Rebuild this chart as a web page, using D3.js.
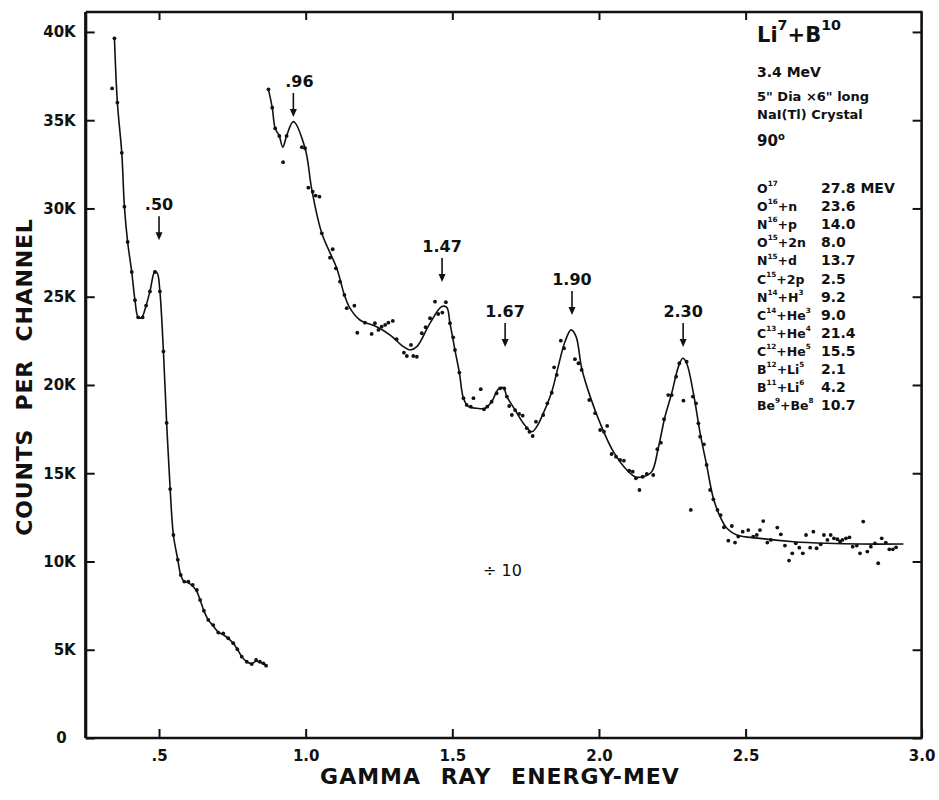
<!DOCTYPE html>
<html><head><meta charset="utf-8">
<script src="https://cdn.jsdelivr.net/npm/d3@7"></script>
<style>body{margin:0;background:#fff} svg{display:block}</style>
</head><body><svg id="c" width="939" height="800"></svg>
<script>
// ---------- DATA (energy MeV, counts in thousands) ----------
const lowCurve = [[0.348,39.64],[0.358,36.0],[0.373,33.15],[0.382,30.1],[0.393,28.1],[0.407,26.4],[0.418,24.8],[0.429,23.83],[0.440,23.8],[0.456,24.5],[0.469,25.3],[0.486,26.45],[0.495,26.3],[0.503,25.3],[0.515,21.9],[0.526,17.85],[0.538,14.1],[0.549,11.5],[0.564,10.1],[0.574,9.24],[0.586,8.86],[0.600,8.8],[0.615,8.6],[0.629,8.3],[0.640,7.82],[0.653,7.21],[0.668,6.69],[0.685,6.35],[0.702,6.0],[0.719,5.85],[0.736,5.65],[0.753,5.37],[0.767,5.03],[0.782,4.61],[0.799,4.32],[0.816,4.22],[0.831,4.35],[0.844,4.3],[0.856,4.22],[0.865,4.10]];
const lowPoints = [[0.340,36.8],[0.348,39.64],[0.358,36.0],[0.373,33.15],[0.382,30.1],[0.393,28.1],[0.407,26.4],[0.418,24.8],[0.429,23.83],[0.444,23.83],[0.456,24.5],[0.469,25.3],[0.486,26.4],[0.503,25.3],[0.515,21.9],[0.526,17.85],[0.538,14.1],[0.549,11.5],[0.564,10.1],[0.574,9.24],[0.586,8.86],[0.600,8.86],[0.615,8.67],[0.629,8.39],[0.640,7.82],[0.653,7.21],[0.668,6.69],[0.685,6.40],[0.702,5.97],[0.719,5.93],[0.736,5.65],[0.753,5.37],[0.767,5.03],[0.782,4.61],[0.799,4.32],[0.816,4.19],[0.831,4.42],[0.844,4.32],[0.856,4.23],[0.865,4.10]];
const mainCurve = [[0.873,36.75],[0.886,35.71],[0.896,34.54],[0.910,34.11],[0.922,33.47],[0.935,34.11],[0.958,34.92],[0.998,33.41],[1.021,31.05],[1.055,28.59],[1.106,26.61],[1.132,25.10],[1.151,24.35],[1.185,23.68],[1.242,23.30],[1.288,22.83],[1.333,22.17],[1.356,21.98],[1.379,22.17],[1.424,23.50],[1.464,24.44],[1.481,24.40],[1.492,23.50],[1.509,21.98],[1.524,20.70],[1.538,19.25],[1.555,18.77],[1.583,18.68],[1.612,18.68],[1.634,19.05],[1.657,19.76],[1.674,19.85],[1.686,19.34],[1.714,18.58],[1.742,17.83],[1.771,17.35],[1.788,17.64],[1.810,18.39],[1.839,19.62],[1.861,21.04],[1.884,22.45],[1.905,23.12],[1.922,22.74],[1.941,20.95],[1.970,19.34],[2.004,17.83],[2.049,16.22],[2.095,15.18],[2.123,14.80],[2.151,14.80],[2.180,15.09],[2.202,16.41],[2.225,18.20],[2.248,19.53],[2.271,21.04],[2.286,21.51],[2.299,21.23],[2.322,19.53],[2.345,17.26],[2.367,15.47],[2.390,13.58],[2.413,12.54],[2.436,11.88],[2.470,11.50],[2.549,11.31],[2.663,11.12],[2.777,11.03],[2.890,10.99],[3.038,10.99]];
const mainPoints = [[0.873,36.75],[0.886,35.71],[0.896,34.54],[0.910,34.11],[0.923,32.62],[0.935,34.11],[0.987,33.47],[0.998,33.41],[1.009,31.18],[1.024,30.95],[1.034,30.73],[1.047,30.67],[1.055,28.59],[1.092,27.69],[1.083,27.21],[1.103,26.61],[1.117,25.85],[1.132,25.10],[1.140,24.35],[1.166,24.49],[1.176,22.96],[1.202,23.53],[1.225,22.89],[1.236,23.50],[1.248,23.12],[1.259,23.30],[1.271,23.40],[1.282,23.53],[1.297,23.63],[1.310,22.59],[1.335,21.83],[1.345,21.64],[1.359,22.27],[1.367,21.64],[1.379,21.60],[1.396,22.93],[1.409,23.27],[1.424,23.78],[1.441,24.72],[1.452,24.02],[1.466,24.10],[1.478,24.69],[1.492,23.50],[1.503,22.70],[1.509,21.98],[1.524,20.70],[1.538,19.25],[1.549,18.87],[1.563,18.77],[1.572,19.25],[1.597,19.76],[1.608,18.62],[1.619,18.77],[1.634,19.05],[1.651,19.53],[1.663,19.81],[1.677,19.81],[1.686,19.34],[1.694,18.81],[1.703,18.30],[1.714,18.58],[1.728,18.36],[1.740,18.26],[1.754,17.55],[1.763,17.35],[1.774,17.11],[1.785,17.92],[1.810,18.30],[1.824,18.96],[1.839,19.56],[1.847,21.00],[1.856,20.57],[1.870,22.51],[1.881,22.08],[1.918,21.46],[1.930,21.23],[1.941,20.85],[1.967,19.15],[1.987,18.40],[2.004,17.45],[2.017,17.35],[2.028,17.68],[2.043,16.09],[2.058,15.94],[2.072,15.75],[2.085,15.71],[2.103,15.14],[2.115,15.09],[2.126,14.71],[2.138,14.05],[2.149,14.80],[2.163,14.96],[2.185,14.90],[2.199,16.36],[2.211,16.73],[2.222,18.06],[2.236,19.43],[2.248,19.43],[2.263,20.47],[2.274,21.23],[2.288,19.11],[2.299,21.32],[2.313,12.92],[2.320,19.34],[2.331,18.96],[2.339,17.83],[2.345,17.07],[2.358,16.64],[2.367,15.47],[2.379,14.05],[2.390,13.52],[2.404,12.92],[2.415,12.63],[2.426,11.94],[2.453,12.01],[2.441,11.18],[2.464,11.07],[2.475,11.41],[2.490,11.69],[2.509,11.78],[2.526,11.41],[2.538,11.50],[2.549,11.78],[2.560,12.29],[2.574,11.07],[2.586,11.22],[2.608,11.92],[2.620,11.54],[2.634,10.90],[2.648,10.05],[2.659,10.46],[2.671,11.03],[2.683,10.78],[2.695,10.46],[2.706,11.50],[2.720,10.78],[2.731,11.69],[2.742,10.75],[2.756,10.97],[2.767,11.50],[2.779,11.22],[2.790,11.50],[2.801,11.31],[2.813,11.26],[2.822,11.12],[2.830,11.22],[2.842,11.31],[2.854,11.37],[2.865,10.84],[2.879,10.90],[2.890,10.46],[2.901,12.26],[2.915,10.56],[2.927,10.84],[2.941,11.03],[2.952,9.90],[2.964,11.31],[2.978,11.07],[2.990,10.69],[3.002,10.69],[3.013,10.80]];

const xTickValues = [0.5, 1.0, 1.5, 2.0, 2.5, 3.1];
const xTickLabels = [".5", "1.0", "1.5", "2.0", "2.5", "3.0"];
const yTickValues = [0, 5, 10, 15, 20, 25, 30, 35, 40];
const yTickLabels = ["0", "5K", "10K", "15K", "20K", "25K", "30K", "35K", "40K"];

const peakArrowE = [0.50, 0.958, 1.465, 1.68, 1.908, 2.287];
const peakTipK = [28.2, 35.18, 25.84, 22.15, 23.97, 22.15];
const peakLabels = [".50", ".96", "1.47", "1.67", "1.90", "2.30"];

const headerLines = ["3.4 MeV", "5\" Dia \u00d76\" long", "NaI(Tl) Crystal"];
const reactions = ["O^17", "O^16+n", "N^16+p", "O^15+2n", "N^15+d", "C^15+2p", "N^14+H^3", "C^14+He^3", "C^13+He^4", "C^12+He^5", "B^12+Li^5", "B^11+Li^6", "Be^9+Be^8"];
const qValues = ["27.8 MEV", "23.6", "14.0", "8.0", "13.7", "2.5", "9.2", "9.0", "21.4", "15.5", "2.1", "4.2", "10.7"];

// ---------- CHART ----------
const svg = d3.select("#c");
const FONT = "'DejaVu Sans', Verdana, sans-serif";
const x = d3.scaleLinear().domain([0.25, 3.1]).range([85.7, 921.6]);
const y = d3.scaleLinear().domain([0, 41.13]).range([738, 12]);

const g = svg.append("g").attr("font-family", FONT);

// axes
const yl = g.append("g").attr("transform", `translate(${x.range()[0]},0)`)
  .call(d3.axisLeft(y).tickValues(yTickValues).tickSize(-9).tickPadding(10)
    .tickFormat((d, i) => yTickLabels[i]));
const yr = g.append("g").attr("transform", `translate(${x.range()[1]},0)`)
  .call(d3.axisRight(y).tickValues(yTickValues).tickSize(-9).tickFormat(""));
const xb = g.append("g").attr("transform", `translate(0,${y.range()[0]})`)
  .call(d3.axisBottom(x).tickValues(xTickValues).tickSize(-9).tickPadding(12)
    .tickFormat((d, i) => xTickLabels[i]));
const xt = g.append("g").attr("transform", `translate(0,${y.range()[1]})`)
  .call(d3.axisTop(x).tickValues(xTickValues.slice(0, 5)).tickSize(-8).tickFormat(""));
[yl, yr, xb, xt].forEach(a => {
  a.select(".domain").remove();
  a.selectAll(".tick line").attr("stroke", "#111").attr("stroke-width", 2);
  a.selectAll(".tick text").attr("font-size", 15).attr("font-weight", "bold").attr("fill", "#111").attr("font-family", FONT);
});
yl.selectAll(".tick text").filter((d) => d === 0).attr("dx", -9);

// frame
const [x0, x1] = x.range(), [yB, yT] = y.range();
g.append("line").attr("x1", x0).attr("x2", x0).attr("y1", yT).attr("y2", yB).attr("stroke", "#111").attr("stroke-width", 3.2);
g.append("line").attr("x1", x0).attr("x2", x1 + 1).attr("y1", yB).attr("y2", yB).attr("stroke", "#111").attr("stroke-width", 2.6);
g.append("line").attr("x1", x0).attr("x2", x1 + 1).attr("y1", yT).attr("y2", yT).attr("stroke", "#111").attr("stroke-width", 2.4);
g.append("line").attr("x1", x1).attr("x2", x1).attr("y1", yT).attr("y2", yB).attr("stroke", "#111").attr("stroke-width", 2.6);

// axis titles
g.append("text").attr("x", 500).attr("y", 784).attr("text-anchor", "middle")
  .attr("font-size", 22).attr("font-weight", "bold").attr("word-spacing", 11).attr("letter-spacing", 1).attr("fill", "#111")
  .text("GAMMA RAY ENERGY-MEV");
g.append("text").attr("transform", "translate(32,377) rotate(-90)").attr("text-anchor", "middle")
  .attr("font-size", 22).attr("font-weight", "bold").attr("word-spacing", 10).attr("letter-spacing", 0.8).attr("fill", "#111")
  .text("COUNTS PER CHANNEL");

// curves
const line = d3.line().x(d => x(d[0])).y(d => y(d[1])).curve(d3.curveCatmullRom.alpha(0.5));
[lowCurve, mainCurve].forEach(c => {
  g.append("path").datum(c).attr("d", line).attr("fill", "none").attr("stroke", "#111").attr("stroke-width", 1.6);
});
g.append("g").selectAll("circle").data(lowPoints.concat(mainPoints)).join("circle")
  .attr("cx", d => x(d[0])).attr("cy", d => y(d[1])).attr("r", 1.9).attr("fill", "#111");

// peak arrows
const ARROW = 24;
peakArrowE.forEach((e, i) => {
  const ax = x(e), tip = y(peakTipK[i]), top = tip - ARROW;
  g.append("line").attr("x1", ax).attr("x2", ax).attr("y1", top).attr("y2", tip - 4).attr("stroke", "#111").attr("stroke-width", 1.6);
  g.append("path").attr("d", `M${ax - 3.5},${tip - 8} L${ax + 3.5},${tip - 8} L${ax},${tip} Z`).attr("fill", "#111");
  g.append("text").attr("x", ax + (i === 1 ? 6 : 0)).attr("y", top - 6).attr("text-anchor", "middle")
    .attr("font-size", 16).attr("font-weight", "bold").attr("fill", "#111").text(peakLabels[i]);
});

// "÷10"
g.append("text").attr("x", 483).attr("y", 576).attr("font-size", 16).attr("fill", "#111").text("\u00f7 10");

// rich text helper for superscripts
function rich(sel, str, size, ratio) {
  const parts = str.split(/(\^\d+)/).filter(s => s.length);
  let up = false;
  const shift = size * 0.55;
  parts.forEach(p => {
    if (p[0] === "^") {
      sel.append("tspan").attr("dy", -shift).attr("font-size", size * ratio).text(p.slice(1));
      up = true;
    } else {
      const t = sel.append("tspan").text(p);
      if (up) { t.attr("dy", shift); up = false; }
    }
  });
}

// header
const hx = 757;
const title = g.append("text").attr("x", hx).attr("y", 42).attr("font-size", 21).attr("font-weight", "bold").attr("fill", "#111");
rich(title, "Li^7+B^10", 21, 0.68);
headerLines.forEach((t, i) => {
  g.append("text").attr("x", hx).attr("y", [77, 101, 119][i]).attr("font-size", [14, 13, 13][i])
    .attr("font-weight", "bold").attr("fill", "#111").text(t);
});
const deg = g.append("text").attr("x", hx).attr("y", 146).attr("font-size", 15).attr("font-weight", "bold").attr("fill", "#111");
deg.append("tspan").text("90");
deg.append("tspan").attr("dy", -6).attr("font-size", 10).text("o");

// reaction table
reactions.forEach((r, i) => {
  const yy = 193 + i * 18.1;
  const t = g.append("text").attr("x", hx).attr("y", yy).attr("font-size", 12.5).attr("font-weight", "bold").attr("fill", "#111");
  rich(t, r, 12.5, 0.58);
  g.append("text").attr("x", 821).attr("y", yy).attr("font-size", 14).attr("font-weight", "bold").attr("fill", "#111").text(qValues[i]);
});
</script></body></html>
